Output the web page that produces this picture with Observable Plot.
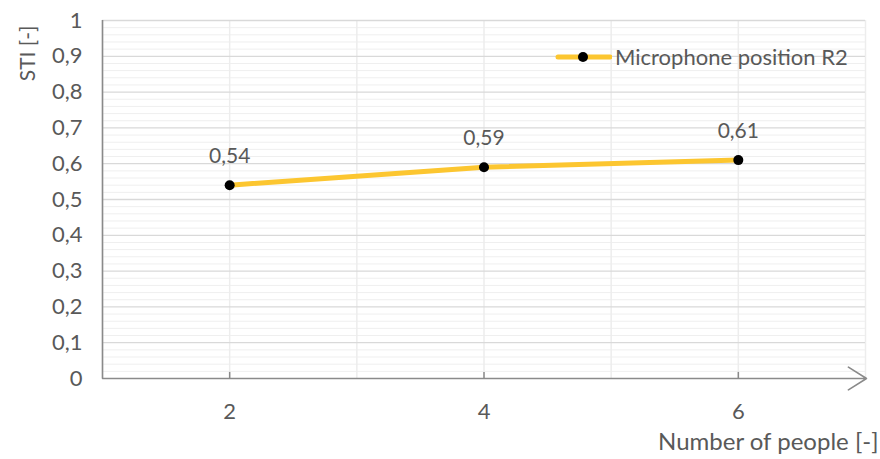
<!DOCTYPE html>
<html>
<head>
<meta charset="utf-8">
<script src="https://cdn.jsdelivr.net/npm/d3@7"></script>
<script src="https://cdn.jsdelivr.net/npm/@observablehq/plot@0.6"></script>
<style>
  html, body { margin: 0; padding: 0; background: #fff; }
  #wrap { position: relative; width: 880px; height: 459px; font-family: Lato, "Open Sans", sans-serif; }
  #legend { position: absolute; left: 555px; top: 43px; display: flex; align-items: center; color: #595959; font-size: 22px; line-height: 28px; }
  #legend svg { display: block; margin-right: 3px; }
</style>
</head>
<body>
<div id="wrap">
  <div id="legend">
    <svg width="57" height="28"><line x1="3" y1="14" x2="55" y2="14" stroke="#fcc630" stroke-width="5" stroke-linecap="round"/><circle cx="28" cy="14" r="5" fill="#000"/></svg>
    <span>Microphone position R2</span>
  </div>
</div>
<script>
// Speech transmission index vs. number of people, microphone position R2
const people = [2, 4, 6];
const sti = [0.54, 0.59, 0.61];
const xTicks = [2, 4, 6];
const yTicks = [0, 0.1, 0.2, 0.3, 0.4, 0.5, 0.6, 0.7, 0.8, 0.9, 1];
const seriesName = "Microphone position R2";

const data = people.map((p, i) => ({people: p, sti: sti[i], series: seriesName}));
const comma = d => String(+d.toFixed(2)).replace(".", ",");

const textColor = "#595959";
const lineColor = "#fcc630";
const axisColor = "#8a8a8a";

const minorY = d3.range(0, 1.0001, 0.02).filter(v => Math.abs(v * 10 - Math.round(v * 10)) > 1e-6);
const gridX = d3.range(1, 8);

const chart = Plot.plot({
  width: 880,
  height: 459,
  marginLeft: 102,
  marginRight: 15,
  marginTop: 20,
  marginBottom: 81,
  style: {fontFamily: "Lato, 'Open Sans', sans-serif", fontSize: "22px", color: textColor, background: "#fff"},
  x: {domain: [1, 7], type: "linear"},
  y: {domain: [0, 1]},
  marks: [
    // minor and major gridlines
    Plot.ruleY(minorY, {stroke: "#efefef", strokeWidth: 1}),
    Plot.ruleX(gridX, {stroke: "#ededed", strokeWidth: 1.5}),
    Plot.ruleY(yTicks.slice(1), {stroke: "#d9d9d9", strokeWidth: 1.3}),
    // axes
    Plot.axisY({ticks: yTicks, tickSize: 0, tickPadding: 20, tickFormat: comma, label: null, fill: textColor, fontSize: 22}),
    Plot.axisX({ticks: xTicks, tickSize: 0, tickPadding: 25, tickFormat: d => String(d), label: null, fill: textColor, fontSize: 22}),
    Plot.ruleX([1], {y1: 0, y2: 1, stroke: axisColor, strokeWidth: 1.6}),
    Plot.arrow([{x1: 1, x2: 7, y: 0}], {x1: "x1", x2: "x2", y1: "y", y2: "y", stroke: axisColor, strokeWidth: 1.6, headLength: 20, headAngle: 64, insetEnd: -1}),
    Plot.ruleX(xTicks, {y1: 0, y2: 0.017, stroke: axisColor, strokeWidth: 1.5}),
    // axis titles
    Plot.text(["Number of people [-]"], {frameAnchor: "bottom-right", textAnchor: "end", dx: 13, dy: 71, fill: textColor, fontSize: 24}),
    Plot.text(["STI [-]"], {frameAnchor: "top-left", textAnchor: "end", rotate: -90, dx: -82, dy: 5, fill: textColor, fontSize: 21}),
    // series
    Plot.line(data, {x: "people", y: "sti", stroke: lineColor, strokeWidth: 5, strokeLinecap: "round"}),
    Plot.dot(data, {x: "people", y: "sti", r: 5, fill: "#000"}),
    Plot.text(data, {x: "people", y: "sti", text: d => comma(d.sti), dy: -29, fill: textColor, fontSize: 21})
  ]
});

document.getElementById("wrap").prepend(chart);
</script>
</body>
</html>
